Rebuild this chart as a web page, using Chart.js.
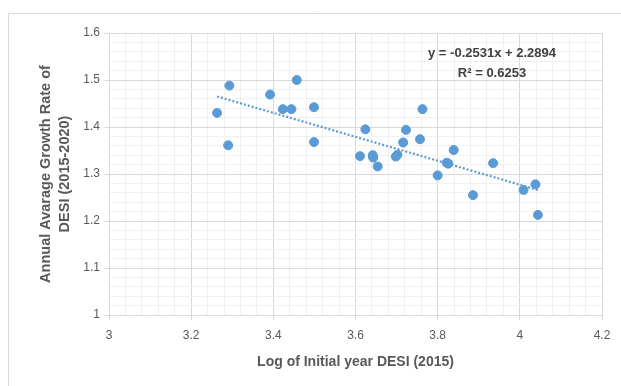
<!DOCTYPE html>
<html>
<head>
<meta charset="utf-8">
<script src="https://cdn.jsdelivr.net/npm/chart.js@4.4.1/dist/chart.umd.min.js"></script>
<style>
  html, body { margin: 0; padding: 0; background: #fff; }
  #wrap { width: 621px; height: 386px; position: relative; }
</style>
</head>
<body>
<div id="wrap"><canvas id="desiChart" width="621" height="386"></canvas></div>
<script>
/* ---------- data ---------- */
const logInitialDesi = [
  3.263, 3.293, 3.290, 3.392, 3.423, 3.444, 3.457, 3.499, 3.499, 3.611,
  3.624, 3.642, 3.643, 3.654, 3.698, 3.702, 3.716, 3.723, 3.757, 3.763,
  3.800, 3.822, 3.826, 3.839, 3.886, 3.935, 4.009, 4.038, 4.044
];
const growthRate = [
  1.430, 1.488, 1.361, 1.469, 1.438, 1.438, 1.500, 1.442, 1.368, 1.338,
  1.395, 1.340, 1.335, 1.316, 1.337, 1.341, 1.367, 1.394, 1.374, 1.438,
  1.297, 1.324, 1.322, 1.351, 1.255, 1.323, 1.266, 1.278, 1.213
];
const trendX = [3.263, 4.044];
const trendY = [1.465, 1.266];
const xTicks = [3, 3.2, 3.4, 3.6, 3.8, 4, 4.2];
const yTicks = [1, 1.1, 1.2, 1.3, 1.4, 1.5, 1.6];
const equationLines = ["y = -0.2531x + 2.2894", "R² = 0.6253"];

const blue = "#5B9BD5";
const textGray = "#595959";

/* ---------- helpers ---------- */
function isMajor(v, list) {
  return list.some(t => Math.abs(t - v) < 1e-6);
}

/* ---------- outer frame + equation ---------- */
const framePlugin = {
  id: "frame",
  beforeDraw(chart) {
    const ctx = chart.ctx;
    ctx.save();
    ctx.strokeStyle = "#D9D9D9";
    ctx.lineWidth = 1;
    ctx.beginPath();
    ctx.moveTo(8.5, 386);
    ctx.lineTo(8.5, 13.5);
    ctx.lineTo(621, 13.5);
    ctx.stroke();
    ctx.restore();
  },
  afterDatasetsDraw(chart) {
    const ctx = chart.ctx;
    ctx.save();
    ctx.fillStyle = "#404040";
    ctx.font = "bold 13px 'Liberation Sans', Arial, sans-serif";
    ctx.textAlign = "center";
    ctx.textBaseline = "middle";
    ctx.fillText(equationLines[0], 492, 53);
    ctx.fillText(equationLines[1], 492, 73);
    ctx.restore();
  }
};

/* ---------- chart ---------- */
const ctx = document.getElementById("desiChart");

new Chart(ctx, {
  type: "scatter",
  data: {
    datasets: [
      {
        label: "DESI",
        data: logInitialDesi.map((x, i) => ({ x, y: growthRate[i] })),
        backgroundColor: blue,
        borderColor: blue,
        pointRadius: 4.5,
        pointHoverRadius: 4.5
      },
      {
        label: "Trend",
        type: "line",
        data: trendX.map((x, i) => ({ x, y: trendY[i] })),
        borderColor: blue,
        borderWidth: 2.2,
        borderDash: [2, 2],
        pointRadius: 0,
        fill: false
      }
    ]
  },
  options: {
    responsive: false,
    animation: false,
    layout: { padding: { top: 33, right: 19, bottom: 0, left: 0 } },
    plugins: {
      legend: { display: false },
      tooltip: { enabled: false }
    },
    scales: {
      x: {
        type: "linear",
        min: 3,
        max: 4.2,
        afterBuildTicks: s => {
          const t = [];
          for (let i = 0; i <= 30; i++) t.push({ value: 3 + i * 0.04 });
          s.ticks = t;
        },
        afterFit: s => { s.height = 71; },
        grid: {
          color: c => isMajor(c.tick.value, xTicks) ? "#D9D9D9" : "#F0F0F0",
          tickColor: c => isMajor(c.tick.value, xTicks) ? "#D9D9D9" : "rgba(0,0,0,0)",
          tickLength: 5,
          lineWidth: 1
        },
        border: { color: "#D9D9D9" },
        ticks: {
          autoSkip: false,
          maxRotation: 0,
          color: textGray,
          font: { family: "'Liberation Sans', Arial, sans-serif", size: 12 },
          padding: 8,
          callback: v => isMajor(v, xTicks) ? String(Math.round(v * 10) / 10) : ""
        },
        title: {
          display: true,
          text: "Log of Initial year DESI (2015)",
          color: textGray,
          font: { family: "'Liberation Sans', Arial, sans-serif", size: 14, weight: "bold" },
          padding: { top: 0, bottom: 15 }
        }
      },
      y: {
        type: "linear",
        min: 1,
        max: 1.6,
        afterBuildTicks: s => {
          const t = [];
          for (let i = 0; i <= 30; i++) t.push({ value: 1 + i * 0.02 });
          s.ticks = t;
        },
        afterFit: s => { s.width = 109; },
        grid: {
          color: c => isMajor(c.tick.value, yTicks) ? "#D9D9D9" : "#F0F0F0",
          tickColor: c => isMajor(c.tick.value, yTicks) ? "#D9D9D9" : "rgba(0,0,0,0)",
          tickLength: 5,
          lineWidth: 1
        },
        border: { color: "#D9D9D9" },
        ticks: {
          autoSkip: false,
          color: textGray,
          font: { family: "'Liberation Sans', Arial, sans-serif", size: 12 },
          padding: 4,
          callback: v => isMajor(v, yTicks) ? String(Math.round(v * 10) / 10) : ""
        },
        title: {
          display: true,
          text: ["Annual Avarage Growth Rate of", "DESI (2015-2020)"],
          color: textGray,
          font: { family: "'Liberation Sans', Arial, sans-serif", size: 14.5, weight: "bold", lineHeight: 1.3 },
          padding: { top: 37, bottom: 0 }
        }
      }
    }
  },
  plugins: [framePlugin]
});
</script>
</body>
</html>
